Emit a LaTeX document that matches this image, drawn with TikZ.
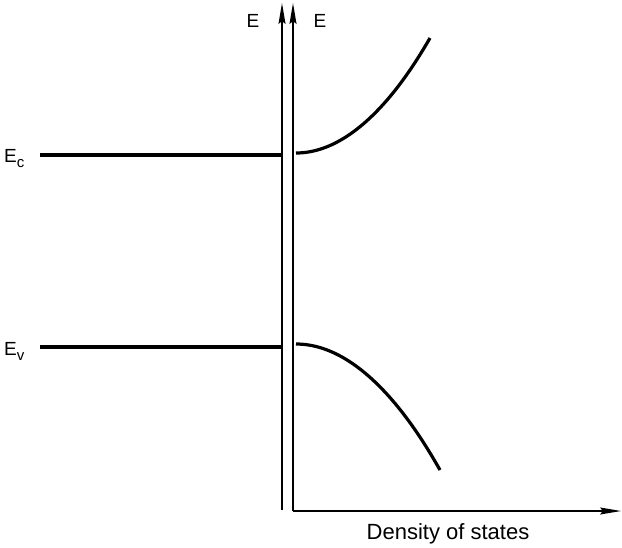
\documentclass[tikz,border=0pt]{standalone}
\usepackage{fontspec}
\setmainfont{Liberation Sans}
\usetikzlibrary{positioning, arrows.meta}

\begin{document}
\begin{tikzpicture}[x=1pt, y=-1pt,
        axis/.style={line width=1.4pt, -{Stealth[length=21pt, width=7pt, inset=3pt]}},
        band/.style={line width=3.2pt},
        lbl/.style={font=\fontsize{19}{22}\selectfont, inner sep=0pt}]

        \useasboundingbox (0,0) rectangle (622,547);

        % Axes
        \coordinate (o1) at (282,510);
        \coordinate (t1) at (282,3);
        \coordinate (o2) at (293,511);
        \coordinate (t2) at (293,3);
        \coordinate (xend) at (621,511);

        \draw[axis] (o1) -- (t1);
        \draw[axis] (o2) -- (t2);
        \draw[axis] (o2) -- (xend);

        \node[lbl] (e1) at (253,21) {E};
        \node[lbl] (e2) at (320,21) {E};
        \node[lbl, font=\fontsize{22}{26}\selectfont, anchor=base] (dos) at (448,539) {Density of states};

        % Band edges
        \coordinate (ec) at (40,155);
        \coordinate (ev) at (40,347);
        \draw[band] (ec) -- (ec -| o1);
        \draw[band] (ev) -- (ev -| o1);

        \node[lbl, anchor=base west] (ecl) at (4,162) {E\raisebox{-5pt}{\fontsize{15}{17}\selectfont c}};
        \node[lbl, anchor=base west] (evl) at (4,355) {E\raisebox{-5pt}{\fontsize{15}{17}\selectfont v}};

        % Density of states
        \draw[band] (296,153) parabola (430,38);
        \draw[band] (296,344) parabola (440,470);
      \end{tikzpicture}
\end{document}
